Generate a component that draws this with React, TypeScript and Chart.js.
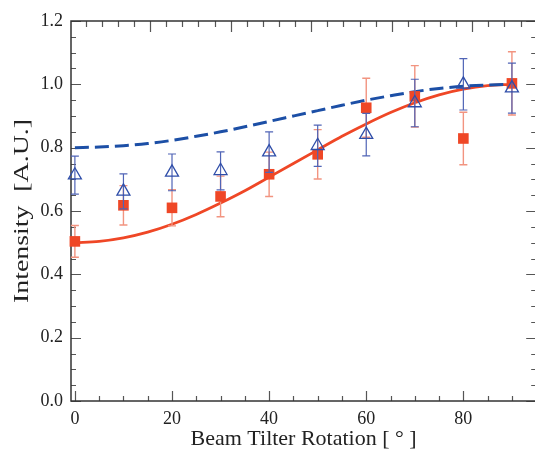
import React, { useEffect, useRef } from "react";
import { Chart, registerables } from "chart.js";

Chart.register(...registerables);

// measured data (Beam Tilter Rotation in degrees)
const angles = [0, 10, 20, 30, 40, 50, 60, 70, 80, 90];
const redValues = [0.504, 0.618, 0.61, 0.646, 0.716, 0.779, 0.926, 0.962, 0.829, 1.003];
const redErrors = [0.05, 0.062, 0.057, 0.064, 0.07, 0.078, 0.093, 0.097, 0.083, 0.1];
const blueValues = [0.713, 0.662, 0.722, 0.727, 0.786, 0.806, 0.841, 0.941, 1.0, 0.988];
const blueErrors = [0.06, 0.055, 0.058, 0.06, 0.064, 0.065, 0.067, 0.075, 0.081, 0.079];

// fitted curves, every 5 degrees
const fitAngles = [0, 5, 10, 15, 20, 25, 30, 35, 40, 45, 50, 55, 60, 65, 70, 75, 80, 85, 90];
const redFit = [0.5, 0.504, 0.515, 0.533, 0.558, 0.589, 0.625, 0.664, 0.707, 0.75, 0.793, 0.836, 0.875, 0.911, 0.942, 0.967, 0.985, 0.996, 1.0];
const blueFit = [0.8, 0.802, 0.806, 0.813, 0.823, 0.836, 0.85, 0.866, 0.883, 0.9, 0.917, 0.934, 0.95, 0.964, 0.977, 0.987, 0.994, 0.998, 1.0];

const xTickLabels = [0, 20, 40, 60, 80];
const yTickLabels = [0, 0.2, 0.4, 0.6, 0.8, 1.0, 1.2];
const yTitle = "Intensity  [A.U.]";

const RED = "#ef4726";
const RED_ERR = "#f29480";
const BLUE = "#1c4fa6";
const BLUE_MARK = "#2f4ea9";
const BLUE_ERR = "#5064b6";
const FONT = "'Liberation Serif', 'Times New Roman', serif";

const errorBarPlugin = {
  id: "errorBars",
  beforeDatasetDraw(chart: any, args: any) {
    const ds = chart.data.datasets[args.index] as any;
    if (!ds.errors) return;
    const xs = chart.scales.x;
    const ys = chart.scales.y;
    const ctx = chart.ctx;
    ctx.save();
    ctx.strokeStyle = ds.errorColor;
    ctx.lineWidth = ds.errorWidth;
    ds.data.forEach((p: any, i: number) => {
      const px = xs.getPixelForValue(p.x);
      const top = ys.getPixelForValue(p.y + ds.errors[i]);
      const bot = ys.getPixelForValue(p.y - ds.errors[i]);
      ctx.beginPath();
      ctx.moveTo(px, top);
      ctx.lineTo(px, bot);
      ctx.moveTo(px - 4, top);
      ctx.lineTo(px + 4, top);
      ctx.moveTo(px - 4, bot);
      ctx.lineTo(px + 4, bot);
      ctx.stroke();
    });
    ctx.restore();
  },
};

const framePlugin = {
  id: "frameTicks",
  beforeDatasetsDraw(chart: any) {
    const { ctx, chartArea } = chart;
    const { left, right, top, bottom } = chartArea;
    const xs = chart.scales.x;
    const ys = chart.scales.y;
    const xt = chart.scales.xt;
    ctx.save();
    ctx.strokeStyle = "#555";
    ctx.lineWidth = 1.2;
    ctx.beginPath();
    for (let v = 0; v <= 95; v += 5) {
      const px = Math.round(xs.getPixelForValue(v)) + 0.5;
      const len = v % 20 === 0 ? 10 : 5;
      ctx.moveTo(px, bottom);
      ctx.lineTo(px, bottom - len);
    }
    for (let k = 0; k <= 24; k++) {
      const v = k * 0.05;
      const py = Math.round(ys.getPixelForValue(v)) + 0.5;
      const len = k % 4 === 0 ? 10 : 5;
      ctx.moveTo(left, py);
      ctx.lineTo(left + len, py);
      ctx.moveTo(right, py);
      ctx.lineTo(right - len, py);
    }
    for (let k = 0; k <= 30; k++) {
      const v = k * 0.2;
      if (v < xt.min || v > xt.max) continue;
      const px = Math.round(xt.getPixelForValue(v)) + 0.5;
      const len = k % 5 === 0 ? 11 : 6;
      ctx.moveTo(px, top);
      ctx.lineTo(px, top + len);
    }
    ctx.stroke();
    ctx.strokeStyle = "#333";
    ctx.lineWidth = 1.5;
    ctx.strokeRect(left, top, right - left, bottom - top);
    ctx.restore();
  },
  afterDraw(chart: any) {
    const { ctx, chartArea } = chart;
    ctx.save();
    ctx.translate(22, (chartArea.top + chartArea.bottom) / 2);
    ctx.rotate(-Math.PI / 2);
    ctx.font = `21px ${FONT}`;
    const w = ctx.measureText(yTitle).width;
    ctx.scale(184 / w, 1);
    ctx.fillStyle = "#222";
    ctx.textAlign = "center";
    ctx.textBaseline = "middle";
    ctx.fillText(yTitle, 0, 0);
    ctx.restore();
  },
};

export default function App() {
  const ref = useRef<HTMLCanvasElement>(null);

  useEffect(() => {
    if (!ref.current) return;
    const chart = new Chart(ref.current, {
      type: "scatter",
      data: {
        datasets: [
          {
            label: "triangles",
            data: angles.map((a, i) => ({ x: a, y: blueValues[i] })),
            errors: blueErrors,
            errorColor: BLUE_ERR,
            errorWidth: 1.2,
            pointStyle: "triangle",
            pointRadius: 7.5,
            pointBorderWidth: 1.3,
            pointBorderColor: BLUE_MARK,
            pointBackgroundColor: "rgba(255,255,255,0)",
            showLine: false,
            clip: false,
          } as any,
          {
            label: "squares",
            data: angles.map((a, i) => ({ x: a, y: redValues[i] })),
            errors: redErrors,
            errorColor: RED_ERR,
            errorWidth: 1.4,
            pointStyle: "rect",
            pointRadius: 7.5,
            pointBorderWidth: 0,
            pointBackgroundColor: RED,
            pointBorderColor: RED,
            showLine: false,
            clip: false,
          } as any,
          {
            label: "blue fit",
            data: fitAngles.map((a, i) => ({ x: a, y: blueFit[i] })),
            showLine: true,
            borderColor: BLUE,
            borderWidth: 3,
            borderDash: [14, 6],
            pointRadius: 0,
            cubicInterpolationMode: "monotone",
          } as any,
          {
            label: "red fit",
            data: fitAngles.map((a, i) => ({ x: a, y: redFit[i] })),
            showLine: true,
            borderColor: RED,
            borderWidth: 2.8,
            pointRadius: 0,
            cubicInterpolationMode: "monotone",
          } as any,
        ],
      },
      options: {
        animation: false,
        responsive: false,
        devicePixelRatio: 1,
        layout: { padding: { top: 21, right: 2, left: 0, bottom: 0 } },
        plugins: {
          legend: { display: false },
          tooltip: { enabled: false },
        },
        scales: {
          x: {
            type: "linear",
            position: "bottom",
            min: -0.8,
            max: 95,
            grid: { display: false, drawTicks: false },
            border: { display: false },
            afterBuildTicks: (s: any) => {
              s.ticks = xTickLabels.map((v) => ({ value: v }));
            },
            afterFit: (s: any) => {
              s.height = 52;
            },
            ticks: {
              color: "#222",
              font: { family: FONT, size: 18 },
              padding: 7,
              maxRotation: 0,
              callback: (v: any) => String(v),
            },
            title: {
              display: true,
              text: "Beam Tilter Rotation [ ° ]",
              color: "#222",
              font: { family: FONT, size: 22 },
              padding: { top: 0, bottom: 1 },
            },
          },
          xt: {
            type: "linear",
            position: "top",
            display: false,
            min: 0.017,
            max: 5.794,
          },
          y: {
            type: "linear",
            position: "left",
            min: 0,
            max: 1.2,
            grid: { display: false, drawTicks: false },
            border: { display: false },
            afterBuildTicks: (s: any) => {
              s.ticks = yTickLabels.map((v) => ({ value: v }));
            },
            afterFit: (s: any) => {
              s.width = 71;
            },
            ticks: {
              color: "#222",
              font: { family: FONT, size: 18 },
              padding: 8,
              callback: (v: any) => Number(v).toFixed(1),
            },
            title: { display: false },
          },
        },
      } as any,
      plugins: [framePlugin, errorBarPlugin],
    });
    return () => chart.destroy();
  }, []);

  return (
    <div
      style={{
        position: "fixed",
        left: 0,
        top: 0,
        width: 535,
        height: 453,
        overflow: "hidden",
        background: "#fff",
      }}
    >
      <canvas ref={ref} width={545} height={453} style={{ width: 545, height: 453, display: "block" }} />
    </div>
  );
}
